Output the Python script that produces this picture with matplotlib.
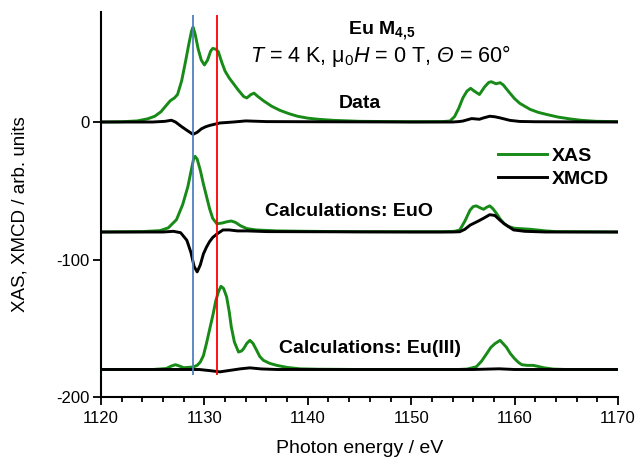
import matplotlib
matplotlib.use("Agg")
import matplotlib.pyplot as plt
from matplotlib.ticker import MultipleLocator

plt.rcParams['font.family'] = ['Liberation Sans', 'DejaVu Sans']
plt.rcParams['mathtext.fontset'] = 'custom'
plt.rcParams['mathtext.rm'] = 'Liberation Sans'
plt.rcParams['mathtext.it'] = 'Liberation Sans:italic'
plt.rcParams['mathtext.bf'] = 'Liberation Sans:bold'
plt.rcParams['mathtext.sf'] = 'Liberation Sans:italic'  # used for the italic capital theta
plt.rcParams['axes.unicode_minus'] = False

# --- measured spectrum: Eu M4,5 data (offset 0) ---
data_xas_e = [1120.0, 1122.0, 1123.5, 1124.5, 1125.2, 1125.8, 1126.3, 1126.7, 1127.1, 1127.4,
              1127.8, 1128.2, 1128.5, 1128.75, 1128.9, 1129.1, 1129.4, 1129.7, 1130.0, 1130.3,
              1130.6, 1130.8, 1131.1, 1131.35, 1131.7, 1132.0, 1132.4, 1132.8, 1133.3, 1133.8,
              1134.1, 1134.5, 1134.8, 1135.1, 1135.7, 1136.5, 1137.3, 1138.2, 1139.0, 1140.0,
              1141.0, 1142.5, 1145.0, 1150.0, 1153.0, 1153.75, 1154.2, 1154.6, 1155.0, 1155.4,
              1155.75, 1156.1, 1156.6, 1157.1, 1157.5, 1157.75, 1158.2, 1158.6, 1158.9, 1159.55,
              1160.0, 1160.5, 1161.5, 1162.3, 1163.1, 1164.2, 1165.4, 1166.5, 1167.9, 1170.0]
data_xas_v = [0.0, 0.2, 0.8, 2.3, 4.2, 7.5, 12.0, 15.5, 17.5, 20.0,
              30.0, 45.0, 57.0, 66.0, 69.0, 64.0, 53.0, 45.0, 41.5, 45.0,
              51.5, 53.5, 53.0, 51.0, 43.0, 37.0, 32.0, 28.0, 23.0, 18.5,
              17.5, 20.0, 21.0, 19.0, 15.5, 11.5, 8.5, 6.0, 4.2, 2.8,
              2.0, 1.2, 0.5, 0.2, 0.3, 0.7, 4.0, 10.0, 17.5, 22.5,
              24.5, 22.5, 20.0, 25.5, 28.8, 29.3, 27.8, 28.6, 27.0, 21.0,
              17.0, 13.6, 9.2, 7.0, 5.5, 3.6, 2.2, 1.2, 0.5, 0.3]
data_xmcd_e = [1120.0, 1125.0, 1126.2, 1126.8, 1127.2, 1127.8, 1128.3, 1128.9, 1129.3, 1129.7,
               1130.1, 1130.5, 1131.5, 1132.8, 1134.0, 1136.0, 1140.0, 1150.0, 1154.0, 1154.6,
               1155.0, 1155.85, 1156.6, 1157.0, 1157.6, 1158.1, 1158.6, 1159.55, 1160.5, 1162.0,
               1170.0]
data_xmcd_v = [0.0, 0.0, 0.5, 1.3, 0.0, -3.4, -6.0, -9.0, -7.5, -5.0,
               -3.5, -2.5, -0.7, 0.0, 0.8, 0.3, 0.2, 0.0, 0.0, 0.3,
               0.7, 2.5, 2.0, 3.0, 4.2, 3.8, 3.0, 1.2, 0.4, 0.2,
               0.0]

# --- calculation: EuO ---
euo_xas_e = [1120.0, 1124.0, 1125.7, 1126.5, 1127.3, 1127.9, 1128.4, 1128.7, 1128.95, 1129.1,
             1129.3, 1129.6, 1129.9, 1130.2, 1130.5, 1130.8, 1131.2, 1131.7, 1132.2, 1132.6,
             1133.0, 1133.5, 1134.1, 1135.0, 1137.0, 1140.0, 1145.0, 1153.0, 1154.2, 1154.7,
             1155.2, 1155.7, 1156.0, 1156.3, 1156.7, 1157.0, 1157.3, 1157.6, 1157.9, 1158.3,
             1158.6, 1159.0, 1159.4, 1160.0, 1161.5, 1163.0, 1164.0, 1170.0]
euo_xas_v = [0.0, 0.3, 1.0, 3.0, 9.0, 20.0, 33.0, 44.0, 53.0, 55.0,
             53.0, 45.0, 35.0, 26.0, 17.0, 10.0, 6.0, 6.5, 7.5, 8.0,
             7.0, 4.5, 2.5, 1.5, 0.8, 0.5, 0.2, 0.2, 0.5, 1.5,
             8.0, 16.0, 18.5, 19.0, 17.5, 16.5, 18.0, 19.0, 17.0, 13.0,
             9.5, 6.0, 4.0, 2.7, 2.0, 0.8, 0.3, 0.0]
euo_xmcd_e = [1120.0, 1126.0, 1127.0, 1127.7, 1128.3, 1128.7, 1129.0, 1129.3, 1129.6, 1129.9,
              1130.2, 1130.5, 1130.8, 1131.2, 1131.8, 1132.4, 1133.2, 1134.1, 1136.0, 1140.0,
              1150.0, 1154.0, 1154.7, 1155.2, 1155.7, 1156.5, 1157.0, 1157.6, 1158.1, 1158.6,
              1159.0, 1159.4, 1159.9, 1161.0, 1163.0, 1170.0]
euo_xmcd_v = [0.0, 0.0, 0.5, -0.5, -6.0, -15.0, -25.0, -29.0, -24.0, -16.0,
              -11.0, -7.0, -4.0, -1.5, 1.5, 1.5, 0.8, 0.8, 0.3, 0.2,
              0.0, 0.0, 0.2, 2.0, 5.0, 8.0, 10.0, 12.6, 12.0, 8.5,
              6.0, 4.0, 1.5, 0.5, 0.0, 0.0]

# --- calculation: Eu(III) ---
eu3_xas_e = [1120.0, 1125.0, 1126.3, 1126.8, 1127.2, 1127.6, 1128.0, 1128.9, 1129.3, 1129.6,
             1129.9, 1130.2, 1130.5, 1130.85, 1131.1, 1131.35, 1131.6, 1131.85, 1132.15, 1132.4,
             1132.6, 1132.9, 1133.3, 1133.6, 1133.8, 1134.1, 1134.4, 1134.7, 1135.05, 1135.35,
             1135.7, 1136.3, 1137.0, 1138.0, 1139.25, 1141.0, 1145.0, 1154.5, 1155.4, 1156.3,
             1156.8, 1157.3, 1157.7, 1158.1, 1158.6, 1159.2, 1159.6, 1160.0, 1160.4, 1160.7,
             1161.2, 1161.8, 1162.3, 1162.8, 1163.75, 1165.0, 1170.0]
eu3_xas_v = [0.0, 0.0, 0.7, 2.5, 3.5, 2.5, 1.3, 1.8, 3.0, 5.4,
             10.0, 19.0, 29.0, 40.6, 50.0, 56.4, 60.5, 59.0, 52.8, 42.0,
             31.0, 20.0, 12.7, 13.5, 15.2, 19.0, 21.2, 19.0, 14.0, 9.5,
             6.7, 4.5, 3.0, 1.5, 0.5, 0.2, 0.0, 0.0, 0.3, 2.0,
             6.0, 11.5, 16.0, 18.8, 21.2, 16.3, 11.5, 7.9, 5.0, 3.5,
             3.0, 3.0, 2.2, 1.3, 0.3, 0.0, 0.0]
eu3_xmcd_e = [1120.0, 1129.5, 1130.5, 1131.5, 1132.5, 1133.5, 1134.4, 1135.5, 1137.0, 1156.0,
              1158.5, 1160.0, 1170.0]
eu3_xmcd_v = [0.0, 0.0, -0.8, -1.7, -0.6, 0.5, 1.2, 0.4, 0.0, 0.0,
              0.5, 0.0, 0.0]

offsets = [0, -80, -180]
spectra = [
    (data_xas_e, data_xas_v, data_xmcd_e, data_xmcd_v),
    (euo_xas_e, euo_xas_v, euo_xmcd_e, euo_xmcd_v),
    (eu3_xas_e, eu3_xas_v, eu3_xmcd_e, eu3_xmcd_v),
]
labels = ["Data", "Calculations: EuO", "Calculations: Eu(III)"]
label_pos = [(1145.0, 13.8), (1144.0, -64.8), (1146.0, -164.8)]

# reference energies (blue: Eu2+ main peak, red: Eu3+ main peak)
marker_e = [1128.9, 1131.2]
marker_colors = ['#4f81bd', '#ff0000']
marker_span = (-184, 78)

green = '#178a17'

fig = plt.figure(figsize=(6.37, 4.57), dpi=100)
ax = fig.add_axes([0.1586, 0.1313, 0.8115, 0.8424])

for i, (xe, xv, me, mv) in enumerate(spectra):
    off = offsets[i]
    ax.plot(xe, [v + off for v in xv], color=green, lw=2.1,
            label="XAS" if i == 0 else None, solid_joinstyle='round')
    ax.plot(me, [v + off for v in mv], color='black', lw=2.1,
            label="XMCD" if i == 0 else None, solid_joinstyle='round')

for e, c in zip(marker_e, marker_colors):
    ax.vlines(e, marker_span[0], marker_span[1], color=c, lw=1.3, zorder=5)

for txt, (x, y) in zip(labels, label_pos):
    ax.text(x, y, txt, ha='center', va='center', fontsize=14, fontweight='bold')

ax.text(1147.1, 66.5, r"Eu M$_{\mathbf{4{,}5}}$", ha='center', va='center',
        fontsize=14, fontweight='bold')
ax.text(1147.0, 48.0, r"$T$ = 4 K, μ$_0$$H$ = 0 T, $\mathsf{Θ}$ = 60°",
        ha='center', va='center', fontsize=15.5)

ax.set_xlim(1120, 1170)
ax.set_ylim(-200, 80)
ax.set_xticks([1120, 1130, 1140, 1150, 1160, 1170])
ax.xaxis.set_minor_locator(MultipleLocator(2))
ax.set_yticks([0, -100, -200])

for s in ['top', 'right']:
    ax.spines[s].set_visible(False)
for s in ['left', 'bottom']:
    ax.spines[s].set_linewidth(1.5)

ax.tick_params(axis='both', which='major', length=6, width=1.3, labelsize=12)
ax.tick_params(axis='x', which='minor', length=3.5, width=1.3)
ax.tick_params(axis='x', pad=4)
ax.tick_params(axis='y', pad=2)

ax.set_xlabel("Photon energy / eV", fontsize=14)
ax.set_ylabel("XAS, XMCD / arb. units", fontsize=13.5)
ax.xaxis.set_label_coords(0.5, -0.112)
ax.yaxis.set_label_coords(-0.14, 0.475)

ax.legend(loc='upper left', bbox_to_anchor=(0.768, 0.649), frameon=False,
          prop={'weight': 'bold', 'size': 14}, handlelength=2.5,
          handletextpad=0.26, labelspacing=0.3, borderpad=0, borderaxespad=0)

fig.savefig("out.png", dpi=100)
